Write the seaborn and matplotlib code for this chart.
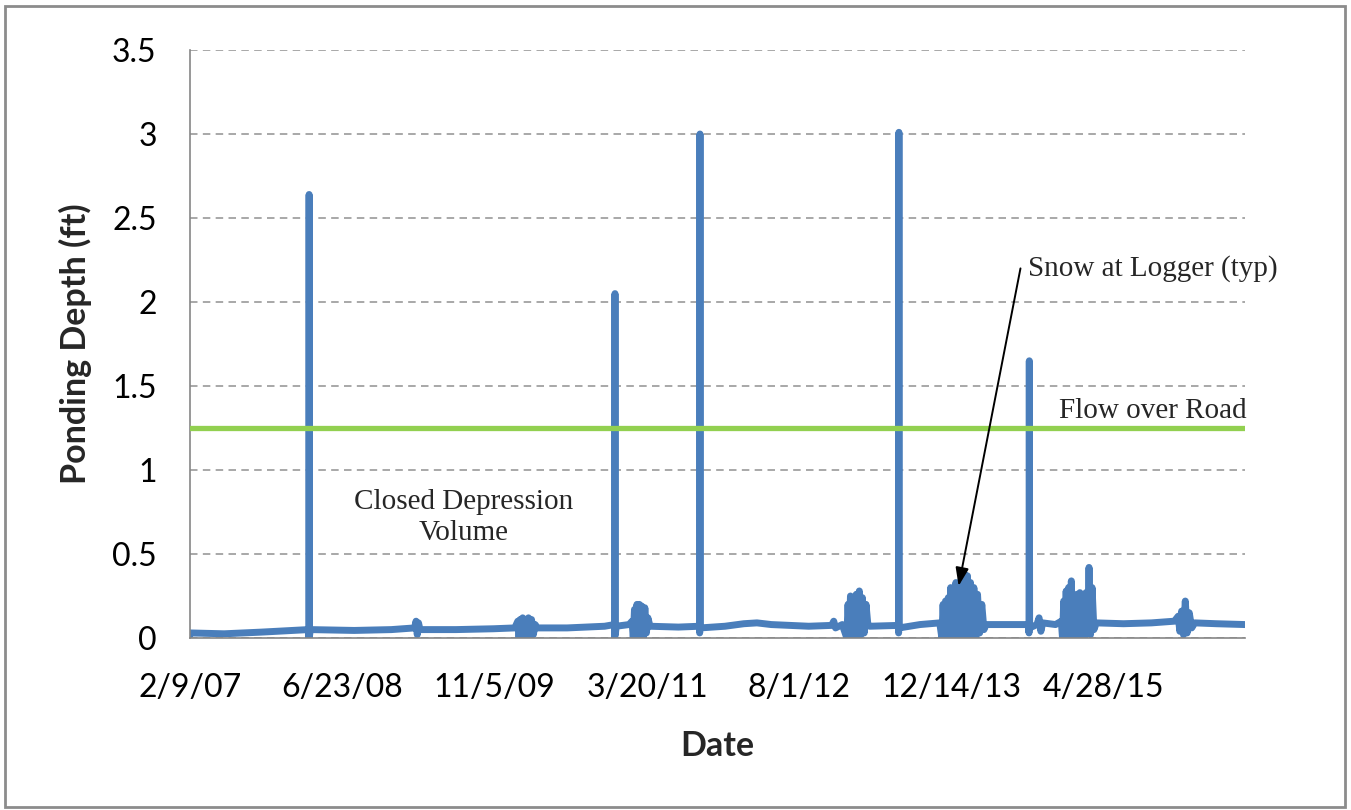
import pandas as pd
import matplotlib.pyplot as plt
import seaborn as sns
from matplotlib.patches import Rectangle

# logger readings (ft)
dates = [
    "2007-02-09", "2007-02-12", "2007-06-01", "2007-10-01", "2008-01-15",
    "2008-03-03", "2008-03-05", "2008-03-06", "2008-03-07", "2008-03-10",
    "2008-08-01", "2008-12-01", "2009-02-15", "2009-02-20", "2009-02-24",
    "2009-02-28", "2009-03-05", "2009-07-01", "2009-11-01", "2010-01-10",
    # winter 2010 snow
    "2010-01-20", "2010-01-24", "2010-01-28", "2010-02-01", "2010-02-05",
    "2010-02-09", "2010-02-14", "2010-02-19", "2010-02-24", "2010-03-01",
    "2010-03-06", "2010-03-12", "2010-03-18", "2010-03-25",
    "2010-07-01", "2010-11-01", "2010-12-03", "2010-12-04", "2010-12-05",
    "2010-12-06", "2010-12-09", "2011-01-20", "2011-01-30",
    # winter 2011 snow
    "2011-02-03", "2011-02-07", "2011-02-11", "2011-02-15", "2011-02-19",
    "2011-02-23", "2011-02-27", "2011-03-03", "2011-03-08", "2011-03-13",
    "2011-03-18", "2011-03-23", "2011-03-30",
    "2011-07-01", "2011-09-08", "2011-09-09", "2011-09-10", "2011-09-11",
    "2011-12-01", "2012-02-01", "2012-03-15", "2012-05-01", "2012-09-01",
    "2012-11-15", "2012-11-22", "2012-11-28", "2012-12-20",
    # winter 2013 snow
    "2013-01-04", "2013-01-08", "2013-01-12", "2013-01-16", "2013-01-20",
    "2013-01-25", "2013-01-30", "2013-02-04", "2013-02-09", "2013-02-14",
    "2013-02-19", "2013-02-24", "2013-03-02", "2013-03-08", "2013-03-14",
    "2013-03-20",
    "2013-06-22", "2013-06-23", "2013-06-24", "2013-06-25", "2013-09-01",
    "2013-11-05",
    # winter 2014 snow
    "2013-11-12", "2013-11-16", "2013-11-20", "2013-11-24", "2013-11-28",
    "2013-12-03", "2013-12-07", "2013-12-11", "2013-12-15", "2013-12-19",
    "2013-12-23", "2013-12-28", "2014-01-02", "2014-01-06", "2014-01-10",
    "2014-01-15", "2014-01-20", "2014-01-25", "2014-01-30", "2014-02-04",
    "2014-02-09", "2014-02-14", "2014-02-19", "2014-02-25", "2014-03-03",
    "2014-03-09", "2014-03-16", "2014-03-23", "2014-03-30", "2014-04-06",
    "2014-06-01", "2014-08-24", "2014-08-25", "2014-08-26", "2014-08-27",
    "2014-09-20", "2014-09-27", "2014-10-03", "2014-10-09", "2014-11-20",
    # winter 2015 snow
    "2014-12-09", "2014-12-13", "2014-12-17", "2014-12-21", "2014-12-25",
    "2014-12-29", "2015-01-02", "2015-01-06", "2015-01-11", "2015-01-15",
    "2015-01-19", "2015-01-24", "2015-01-29", "2015-02-03", "2015-02-08",
    "2015-02-13", "2015-02-18", "2015-02-23", "2015-02-28", "2015-03-05",
    "2015-03-10", "2015-03-15", "2015-03-20", "2015-03-26", "2015-04-03",
    "2015-07-01", "2015-10-01", "2015-12-15",
    # winter 2016 snow
    "2015-12-28", "2016-01-02", "2016-01-08", "2016-01-14", "2016-01-20",
    "2016-01-26", "2016-02-02", "2016-02-10", "2016-02-20",
    "2016-05-01", "2016-08-03",
]
depth = [
    0.02, 0.03, 0.025, 0.035, 0.045,
    0.05, 0.0, 2.64, 0.01, 0.05,
    0.045, 0.05, 0.06, 0.1, 0.02,
    0.09, 0.05, 0.05, 0.055, 0.06,
    0.1, 0.0, 0.11, 0.01, 0.12,
    0.0, 0.09, 0.02, 0.12, 0.0,
    0.11, 0.02, 0.08, 0.06,
    0.06, 0.07, 0.08, 0.0, 2.05,
    0.02, 0.07, 0.08, 0.1,
    0.0, 0.17, 0.01, 0.2, 0.0,
    0.2, 0.02, 0.19, 0.0, 0.18,
    0.03, 0.12, 0.07,
    0.065, 0.07, 0.03, 3.0, 0.06,
    0.07, 0.085, 0.09, 0.08, 0.07,
    0.075, 0.1, 0.06, 0.08,
    0.0, 0.2, 0.01, 0.25, 0.0,
    0.22, 0.02, 0.26, 0.0, 0.28,
    0.02, 0.24, 0.03, 0.2, 0.08,
    0.07,
    0.075, 0.03, 3.01, 0.06, 0.08,
    0.09,
    0.0, 0.2, 0.01, 0.22, 0.0,
    0.24, 0.02, 0.3, 0.0, 0.27,
    0.03, 0.33, 0.0, 0.3, 0.02,
    0.36, 0.0, 0.38, 0.03, 0.37,
    0.0, 0.33, 0.02, 0.3, 0.0,
    0.26, 0.03, 0.2, 0.05, 0.08,
    0.08, 0.08, 0.03, 1.65, 0.06,
    0.08, 0.12, 0.04, 0.09, 0.08,
    0.1, 0.0, 0.22, 0.01, 0.28,
    0.0, 0.3, 0.02, 0.34, 0.0,
    0.25, 0.03, 0.26, 0.0, 0.27,
    0.02, 0.22, 0.0, 0.27, 0.03,
    0.42, 0.02, 0.3, 0.05, 0.09,
    0.085, 0.09, 0.1,
    0.13, 0.04, 0.16, 0.02, 0.22,
    0.03, 0.15, 0.06, 0.09,
    0.085, 0.08,
]
assert len(dates) == len(depth)

road_level = 1.25
tick_dates = ["2007-02-09", "2008-06-23", "2009-11-05", "2011-03-20",
              "2012-08-01", "2013-12-14", "2015-04-28"]
y_ticks = [0, 0.5, 1, 1.5, 2, 2.5, 3, 3.5]

df = pd.DataFrame({"date": pd.to_datetime(dates), "depth": depth})

sns.set_style("white")
plt.rcParams["font.family"] = ["Lato", "DejaVu Sans"]

fig = plt.figure(figsize=(13.51, 8.10), dpi=100)
ax = fig.add_axes([190 / 1351, 1 - 638 / 810, (1245 - 190) / 1351, (638 - 50) / 810])

# green line for road overtopping level
ax.axhline(road_level, color="#92D050", lw=3.8, zorder=3)

sns.lineplot(data=df, x="date", y="depth", estimator=None, sort=False,
             color="#4A7EBB", lw=5, ax=ax, zorder=2)

ax.set_ylim(0, 3.5)
ax.set_xlim(pd.Timestamp("2007-02-09"), pd.Timestamp("2016-08-03"))
ax.set_yticks(y_ticks)
ax.set_yticklabels(["%g" % v for v in y_ticks])
ax.set_xticks(pd.to_datetime(tick_dates))
ax.set_xticklabels([f"{d.month}/{d.day}/{d.strftime('%y')}" for d in pd.to_datetime(tick_dates)])

ax.yaxis.grid(True, color="#999999", lw=1.2, linestyle=(0, (4.5, 3.2)))
ax.xaxis.grid(False)
for s in ["top", "right"]:
    ax.spines[s].set_visible(False)
for s in ["left", "bottom"]:
    ax.spines[s].set_color("#868686")
    ax.spines[s].set_linewidth(1.2)
ax.tick_params(axis="both", which="major", direction="out", length=9,
               width=1, color="#868686", labelsize=23, labelcolor="#000000")
ax.tick_params(axis="y", pad=15)
ax.tick_params(axis="x", pad=16)

ax.set_xlabel("Date", fontsize=24.5, fontweight="bold", labelpad=20)
ax.set_ylabel("Ponding Depth (ft)", fontsize=24.5, fontweight="bold", labelpad=14)

serif = ["Liberation Serif", "DejaVu Serif"]
ax.text(pd.Timestamp("2009-07-26"), 0.72, "Closed Depression\nVolume",
        ha="center", va="center", fontsize=21, family=serif, linespacing=1.25)
ax.text(1.002, 1.35, "Flow over Road", transform=ax.get_yaxis_transform(),
        ha="right", va="center", fontsize=21, family=serif)
ax.text(pd.Timestamp("2014-08-21"), 2.2, "Snow at Logger (typ)",
        ha="left", va="center", fontsize=21, family=serif)
ax.annotate("", xy=(pd.Timestamp("2014-01-06"), 0.31),
            xytext=(pd.Timestamp("2014-07-28"), 2.2),
            arrowprops=dict(arrowstyle="-|>,head_length=1.1,head_width=0.4",
                            color="black", lw=1.4, shrinkA=0, shrinkB=0))

# outer chart border
fig.patches.append(Rectangle((5 / 1351, 3 / 810), 1340 / 1351, 801 / 810,
                             transform=fig.transFigure, fill=False,
                             edgecolor="#8C8C8C", lw=2))

fig.savefig("out.png", dpi=100)
